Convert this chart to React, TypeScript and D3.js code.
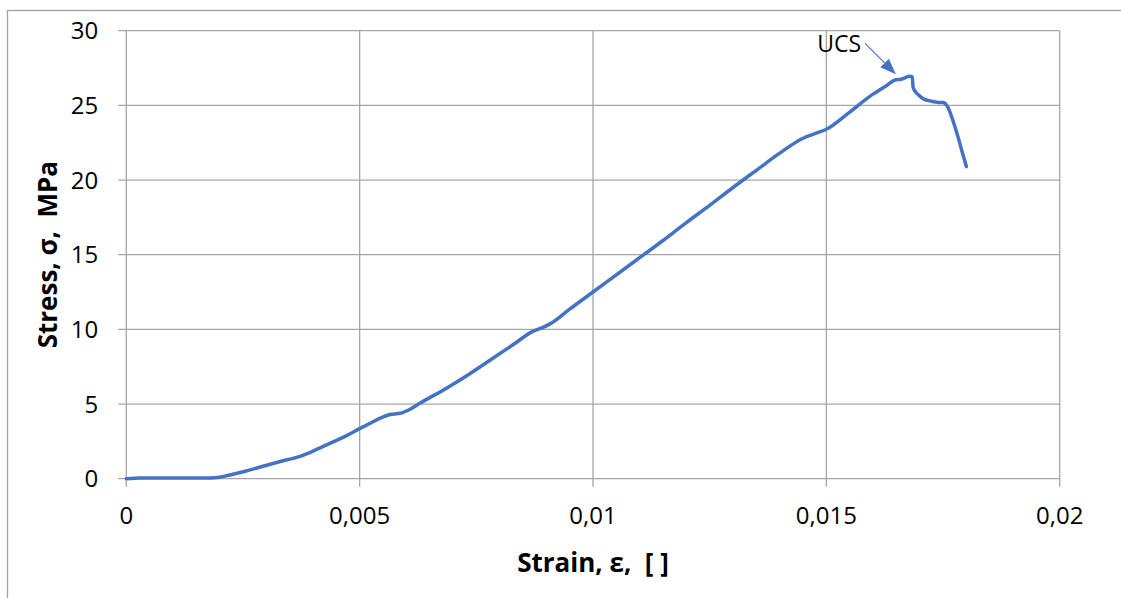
import React from "react";
import * as d3 from "d3";

// Stress–strain curve of a uniaxial compression test
const strain: number[] = [
  0, 0.0003, 0.0008, 0.0014, 0.0018, 0.0020, 0.00222, 0.00255, 0.00287, 0.0033,
  0.00372, 0.0040, 0.00437, 0.0047, 0.0050, 0.00525, 0.00544, 0.00565, 0.00587,
  0.00605, 0.00629, 0.00687, 0.00737, 0.0078, 0.0083, 0.0087, 0.0089, 0.0091,
  0.0095, 0.0100, 0.0105, 0.0110, 0.0115, 0.0120, 0.0125, 0.0130, 0.0135,
  0.0140, 0.0145, 0.0148, 0.0150, 0.0155, 0.0160, 0.01615, 0.0163, 0.01647,
  0.0166, 0.01679, 0.01684, 0.01686, 0.0169, 0.01701, 0.0171, 0.01722, 0.0174,
  0.0175, 0.0176, 0.01771, 0.01782, 0.0179, 0.0180,
];
const stress: number[] = [
  0, 0.05, 0.05, 0.05, 0.05, 0.1, 0.25, 0.5, 0.78, 1.15,
  1.5, 1.85, 2.38, 2.85, 3.35, 3.75, 4.05, 4.3, 4.38,
  4.6, 5.05, 6.08, 7.05, 7.95, 9.0, 9.85, 10.1, 10.4,
  11.35, 12.5, 13.65, 14.8, 15.95, 17.15, 18.3, 19.5, 20.65,
  21.8, 22.8, 23.15, 23.4, 24.55, 25.75, 26.05, 26.35, 26.7,
  26.75, 26.95, 26.9, 26.2, 25.95, 25.6, 25.4, 25.3, 25.2,
  25.2, 24.9, 24.0, 22.9, 22.0, 20.9,
];
const xTicks: number[] = [0, 0.005, 0.01, 0.015, 0.02];
const yTicks: number[] = [0, 5, 10, 15, 20, 25, 30];
const peakLabel = "UCS";
const xTitle = "Strain, \u03b5,\u00a0 [ ]";
const yTitle = "Stress, \u03c3,\u00a0 MPa";

const W = 1121;
const H = 598;
const plot = { left: 126.3, right: 1059.7, top: 30.7, bottom: 478.7 };
const font = "'Open Sans', 'Noto Sans', sans-serif";
const gridColor = "#a6a6a6";
const lineColor = "#4472c4";

export default function App() {
  const x = d3.scaleLinear().domain([0, 0.02]).range([plot.left, plot.right]);
  const y = d3.scaleLinear().domain([0, 30]).range([plot.bottom, plot.top]);
  const pts = strain.map((s, i) => [s, stress[i]] as [number, number]);
  const line = d3
    .line<[number, number]>()
    .x((d) => x(d[0]))
    .y((d) => y(d[1]))
    .curve(d3.curveMonotoneX);

  const fmt = (v: number) => String(v).replace(".", ",");

  // peak point for the annotation arrow
  let pi = 0;
  stress.forEach((v, i) => {
    if (v > stress[pi]) pi = i;
  });
  const tipX = x(strain[pi]) - 14;
  const tipY = y(stress[pi]) - 2;
  const tailX = x(0.01583);
  const tailY = y(29.15);
  const ang = Math.atan2(tipY - tailY, tipX - tailX);
  const ah = 16;
  const aw = 6;
  const bx = tipX - ah * Math.cos(ang);
  const by = tipY - ah * Math.sin(ang);
  const head = `M${tipX},${tipY} L${bx + aw * Math.sin(ang)},${by - aw * Math.cos(ang)} L${bx - aw * Math.sin(ang)},${by + aw * Math.cos(ang)} Z`;

  return (
    <svg
      width={W}
      height={H}
      style={{ position: "absolute", left: 0, top: 0, background: "#fff" }}
    >
      <rect x={7.5} y={10.5} width={1140} height={620} fill="#fff" stroke="#a0a0a0" strokeWidth={1.3} />
      {yTicks.map((t) => (
        <line key={"gy" + t} x1={plot.left - 8} x2={plot.right} y1={y(t)} y2={y(t)} stroke={gridColor} strokeWidth={1.3} />
      ))}
      {xTicks.map((t) => (
        <line key={"gx" + t} x1={x(t)} x2={x(t)} y1={plot.top} y2={plot.bottom + 8} stroke={gridColor} strokeWidth={1.3} />
      ))}
      {yTicks.map((t) => (
        <text key={"ty" + t} x={plot.left - 28} y={y(t)} dy="0.36em" textAnchor="end" fontFamily={font} fontSize={24} fill="#000">
          {fmt(t)}
        </text>
      ))}
      {xTicks.map((t) => (
        <text key={"tx" + t} x={x(t)} y={plot.bottom + 45} textAnchor="middle" fontFamily={font} fontSize={24} fill="#000">
          {fmt(t)}
        </text>
      ))}
      <path d={line(pts) ?? ""} fill="none" stroke={lineColor} strokeWidth={3.5} strokeLinejoin="round" strokeLinecap="round" />
      <line x1={tailX} y1={tailY} x2={bx} y2={by} stroke={lineColor} strokeWidth={1.2} />
      <path d={head} fill={lineColor} />
      <text x={tailX - 4} y={tailY + 9} textAnchor="end" fontFamily={font} fontSize={23} fill="#000">
        {peakLabel}
      </text>
      <text x={(plot.left + plot.right) / 2} y={572} textAnchor="middle" fontFamily={font} fontWeight="bold" fontSize={26} fill="#000">
        {xTitle}
      </text>
      <text
        transform={`translate(57, ${(plot.top + plot.bottom) / 2}) rotate(-90)`}
        textAnchor="middle"
        fontFamily={font}
        fontWeight="bold"
        fontSize={26}
        fill="#000"
      >
        {yTitle}
      </text>
    </svg>
  );
}
